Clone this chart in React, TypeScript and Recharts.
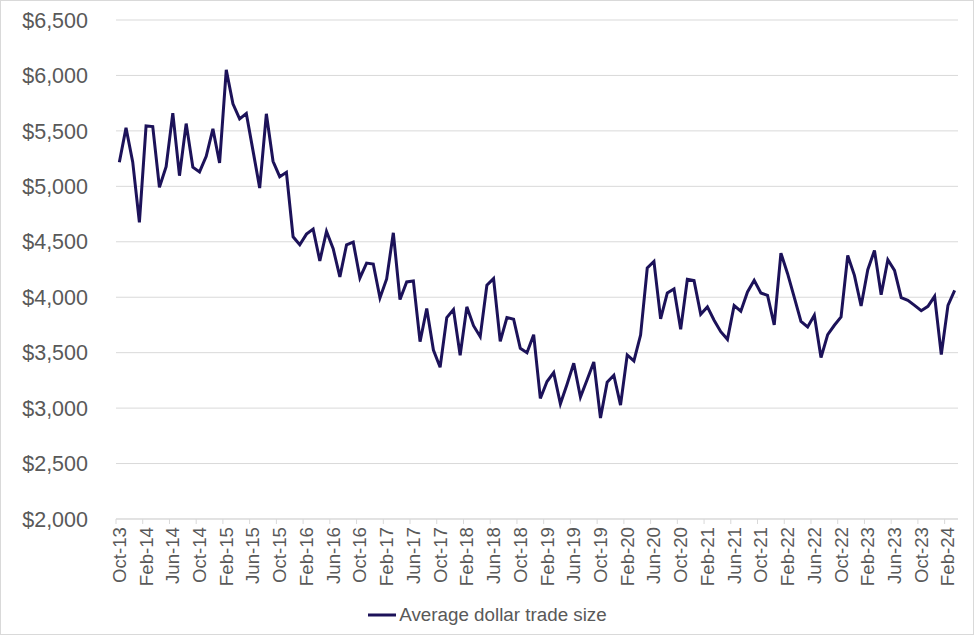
import {
  CartesianGrid,
  Legend,
  Line,
  LineChart,
  XAxis,
  YAxis,
} from "recharts"

// monthly series, Oct-13 .. Mar-24
const START_YEAR = 2013
const START_MONTH = 9 // 0 = Jan, so 9 = Oct
const MONTH_NAMES = ["Jan", "Feb", "Mar", "Apr", "May", "Jun", "Jul", "Aug", "Sep", "Oct", "Nov", "Dec"]

const TRADE_SIZE = [
  5217, 5527, 5220, 4675, 5545, 5539, 4991, 5178, 5660, 5096, 5566, 5172,
  5130, 5271, 5518, 5211, 6051, 5744, 5608, 5657, 5322, 4985, 5654, 5226,
  5087, 5127, 4545, 4473, 4569, 4614, 4328, 4593, 4437, 4183, 4473, 4497,
  4174, 4308, 4299, 3994, 4165, 4581, 3979, 4138, 4147, 3599, 3898, 3524,
  3368, 3817, 3889, 3476, 3913, 3743, 3644, 4108, 4168, 3602, 3817, 3802,
  3539, 3500, 3662, 3087, 3240, 3320, 3039, 3216, 3404, 3099, 3255, 3416,
  2910, 3234, 3296, 3027, 3479, 3425, 3659, 4263, 4323, 3805, 4039, 4075,
  3710, 4162, 4150, 3847, 3913, 3793, 3689, 3620, 3925, 3874, 4048, 4152,
  4038, 4017, 3750, 4398, 4212, 3998, 3783, 3732, 3837, 3456, 3663, 3747,
  3822, 4377, 4197, 3921, 4248, 4422, 4023, 4338, 4242, 3996, 3972, 3927,
  3879, 3918, 4008, 3483, 3927, 4062,
]

const Y_TICKS = [2000, 2500, 3000, 3500, 4000, 4500, 5000, 5500, 6000, 6500]

const SERIES_NAME = "Average dollar trade size"

function monthLabel(i: number) {
  const m = START_MONTH + i
  const yr = START_YEAR + Math.floor(m / 12)
  return `${MONTH_NAMES[m % 12]}-${String(yr % 100).padStart(2, "0")}`
}

const data = TRADE_SIZE.map((v, i) => ({ month: monthLabel(i), value: v }))

const W = 974
const H = 635
const MARGIN = { top: 20, right: 16, left: 0, bottom: 0 }
const Y_AXIS_W = 116
const PLOT_W = W - MARGIN.left - MARGIN.right - Y_AXIS_W
// excel-style category band: ticks sit on band edges, points in the middle
const BAND = PLOT_W / data.length

const FONT = "'Liberation Sans', Arial, sans-serif"
const TEXT = "#595959"
const GRID = "#d9d9d9"
const LINE = "#1c1259"

function MonthTick(props: any) {
  const { x, y, payload } = props
  const edge = x - BAND / 2
  return (
    <g>
      <line x1={edge} x2={edge} y1={y} y2={y + 5} stroke={GRID} />
      <text
        x={x}
        y={y + 8}
        transform={`rotate(-90 ${x} ${y + 8})`}
        textAnchor="end"
        dominantBaseline="central"
        fontFamily={FONT}
        fontSize={18.67}
        fill={TEXT}
      >
        {payload.value}
      </text>
    </g>
  )
}

function LegendBox() {
  return (
    <div
      style={{
        display: "flex",
        justifyContent: "center",
        alignItems: "center",
        paddingTop: 5,
        paddingLeft: 16,
        fontFamily: FONT,
        fontSize: 18.8,
        color: TEXT,
      }}
    >
      <svg width={30} height={10} style={{ marginRight: 2 }}>
        <line x1={1} x2={29} y1={5} y2={5} stroke={LINE} strokeWidth={3} />
      </svg>
      <span>{SERIES_NAME}</span>
    </div>
  )
}

export default function App() {
  return (
    <div style={{ position: "absolute", left: 0, top: 0, width: W, height: H, background: "#fff" }}>
      <LineChart width={W} height={H} data={data} margin={MARGIN}>
        <CartesianGrid vertical={false} stroke={GRID} />
        <XAxis
          dataKey="month"
          interval={3}
          height={80}
          padding={{ left: BAND / 2, right: BAND / 2 }}
          axisLine={{ stroke: GRID }}
          tickLine={false}
          tickSize={0}
          tickMargin={0}
          tick={MonthTick}
        />
        <YAxis
          width={Y_AXIS_W}
          domain={[2000, 6500]}
          ticks={Y_TICKS}
          axisLine={false}
          tickLine={false}
          tickMargin={22}
          tickFormatter={(v: number) => "$" + v.toLocaleString("en-US")}
          tick={{ fontFamily: FONT, fontSize: 21.5, fill: TEXT }}
        />
        <Legend verticalAlign="bottom" height={36} content={<LegendBox />} />
        <Line
          type="linear"
          dataKey="value"
          name={SERIES_NAME}
          stroke={LINE}
          strokeWidth={3}
          dot={false}
          isAnimationActive={false}
        />
      </LineChart>
      <div
        style={{
          position: "absolute",
          inset: 0,
          border: `1px solid ${GRID}`,
          pointerEvents: "none",
        }}
      />
    </div>
  )
}
